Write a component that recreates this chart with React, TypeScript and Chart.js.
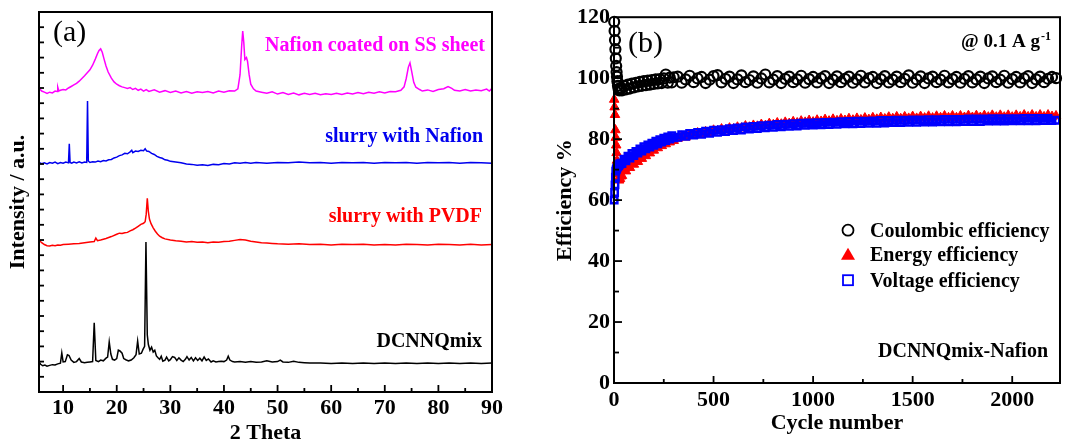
import React, { useEffect, useRef } from 'react';
import { Chart, registerables } from 'chart.js';

Chart.register(...registerables);

const SERIF = "'Liberation Serif', 'Times New Roman', serif";

type Pt = [number, number];

// ---------------- Panel (a): XRD patterns (offset, arbitrary units) ----------------
const xrdNafionSS: Pt[] = [
  [5.5, 80.0], [6, 79.2], [6.5, 78.9], [7, 78.6], [7.5, 78.9], [8, 78.7], [8.5, 79.2], [8.9, 79.1], [9.0, 80.2], [9.2, 79.2],
  [9.5, 79.4], [10, 79.6], [10.5, 79.5], [11, 80.0], [11.5, 80.4], [12, 80.8], [12.5, 81.2], [13, 81.8], [13.5, 82.5], [14, 83.2],
  [14.5, 84.0], [15, 84.8], [15.5, 86.0], [16, 87.6], [16.4, 89.0], [16.7, 89.9], [17.0, 90.3], [17.3, 89.4], [17.6, 87.8], [18.0, 85.8],
  [18.4, 84.2], [19, 82.6], [19.5, 81.6], [20, 81.0], [20.5, 80.6], [21, 80.3], [21.5, 80.1], [22, 79.9], [22.5, 80.1], [23, 79.6],
  [23.5, 79.9], [24, 79.4], [24.5, 79.7], [25, 79.2], [25.5, 79.6], [26, 79.1], [27, 79.5], [28, 78.9], [29, 79.3], [30, 78.8],
  [31, 79.2], [32, 78.7], [33, 79.1], [34, 78.6], [35, 79.0], [36, 78.8], [37, 79.1], [38, 78.7], [39, 79.2], [40, 78.9],
  [41, 79.3], [42, 79.2], [42.6, 79.8], [43.0, 83.5], [43.3, 91.0], [43.5, 95.0], [43.7, 92.0], [43.9, 87.5], [44.2, 88.0], [44.4, 87.0],
  [44.7, 83.5], [45.0, 81.0], [45.5, 79.8], [46, 79.2], [47, 78.9], [48, 78.6], [49, 79.0], [50, 78.4], [51, 78.8], [52, 78.3],
  [53, 78.7], [54, 78.2], [55, 78.6], [56, 78.3], [57, 78.6], [58, 78.2], [59, 78.5], [60, 78.3], [61, 78.6], [62, 78.3],
  [63, 78.7], [64, 78.4], [65, 78.8], [66, 78.5], [67, 78.9], [68, 78.6], [69, 79.0], [70, 78.7], [71, 79.1], [72, 79.0],
  [73, 79.4], [73.6, 80.3], [74.0, 82.5], [74.4, 85.5], [74.7, 86.6], [75.0, 84.5], [75.4, 81.5], [75.8, 80.2], [76.5, 79.6], [77, 79.2],
  [78, 79.5], [79, 79.1], [80, 79.6], [81, 79.8], [81.8, 80.4], [82.5, 79.9], [83, 79.4], [84, 79.2], [85, 79.6], [86, 79.2],
  [87, 79.5], [88, 79.3], [89, 79.7], [89.5, 79.2], [90, 79.9],
];

const xrdSlurryNafion: Pt[] = [
  [5.5, 60.4], [6, 60.1], [6.5, 60.3], [7, 60.0], [7.5, 60.4], [8, 60.2], [8.5, 60.5], [9, 60.1], [9.5, 60.4], [10, 60.2],
  [10.5, 60.5], [11.0, 60.3], [11.15, 65.3], [11.3, 60.4], [11.6, 60.2], [12, 60.5], [12.5, 60.3], [13, 60.6], [13.5, 60.3], [14, 60.5],
  [14.4, 60.4], [14.55, 76.6], [14.7, 60.8], [15, 60.4], [15.5, 60.6], [16, 60.5], [16.5, 60.8], [17, 60.6], [17.5, 60.9], [18, 60.8],
  [18.5, 61.1], [19, 61.2], [19.5, 61.6], [20, 61.8], [20.5, 62.2], [21, 62.4], [21.5, 62.8], [22, 62.7], [22.5, 63.2], [22.8, 63.6],
  [23, 63.0], [23.5, 63.4], [24, 63.3], [24.5, 63.6], [25, 63.5], [25.3, 64.0], [25.6, 63.4], [26, 63.3], [26.5, 62.8], [27, 62.5],
  [27.5, 62.0], [28, 61.7], [28.5, 61.5], [29, 61.1], [29.5, 61.0], [30, 60.7], [31, 60.5], [32, 60.3], [33, 60.0], [34, 59.9],
  [35, 59.7], [36, 59.8], [37, 59.6], [38, 59.9], [39, 59.8], [40, 60.1], [41, 60.0], [42, 60.3], [43, 60.2], [44, 60.4],
  [45, 60.2], [46, 60.4], [48, 60.2], [50, 60.4], [52, 60.3], [54, 60.5], [56, 60.3], [58, 60.4], [60, 60.2], [62, 60.4],
  [64, 60.3], [66, 60.4], [68, 60.2], [70, 60.4], [72, 60.3], [74, 60.4], [76, 60.2], [78, 60.4], [80, 60.3], [82, 60.4],
  [84, 60.2], [86, 60.4], [88, 60.3], [90, 60.2],
];

const xrdSlurryPVDF: Pt[] = [
  [5.5, 40.0], [6, 39.3], [6.5, 38.8], [7, 38.5], [7.5, 38.4], [8, 38.6], [8.5, 38.5], [9, 38.7], [9.5, 38.6], [10, 38.8],
  [11, 38.9], [12, 39.0], [13, 39.1], [14, 39.3], [15, 39.5], [15.8, 39.6], [16.1, 40.5], [16.4, 39.8], [17, 40.0], [18, 40.4],
  [19, 40.9], [20, 41.5], [20.5, 41.8], [21, 41.7], [21.5, 41.9], [22, 42.0], [22.5, 42.4], [23, 42.7], [23.5, 43.1], [24, 43.6],
  [24.5, 44.1], [25, 44.4], [25.3, 44.8], [25.5, 46.8], [25.7, 51.0], [25.9, 47.5], [26.1, 45.5], [26.4, 44.3], [26.8, 43.2], [27.2, 42.3],
  [27.6, 41.6], [28, 41.0], [28.5, 40.6], [29, 40.3], [30, 40.0], [31, 39.8], [32, 39.7], [33, 39.5], [34, 39.6], [35, 39.4],
  [36, 39.5], [37, 39.3], [38, 39.5], [39, 39.4], [40, 39.6], [41, 39.7], [42, 39.9], [43, 40.1], [44, 40.0], [45, 39.7],
  [46, 39.5], [47, 39.3], [48, 39.2], [49, 39.1], [50, 39.0], [52, 38.9], [54, 39.0], [56, 38.8], [58, 38.9], [60, 38.7],
  [62, 38.9], [64, 38.8], [66, 38.9], [68, 38.7], [70, 38.8], [72, 38.7], [74, 38.9], [76, 38.8], [78, 38.7], [80, 38.9],
  [82, 38.8], [84, 38.7], [86, 38.9], [88, 38.7], [90, 38.8],
];

const xrdDCNNQmix: Pt[] = [
  [5.5, 7.9], [5.8, 7.3], [6.2, 6.9], [6.6, 7.1], [7, 6.8], [7.5, 7.0], [8, 7.2], [8.5, 7.1], [9, 7.4], [9.5, 7.6],
  [9.75, 10.3], [10, 7.9], [10.4, 8.0], [10.8, 9.8], [11.1, 9.6], [11.5, 8.4], [12, 7.8], [12.5, 8.0], [13, 8.8], [13.4, 7.9],
  [14, 7.7], [14.5, 7.8], [15, 7.9], [15.5, 8.0], [15.8, 18.2], [16.1, 8.3], [16.6, 8.0], [17, 8.4], [17.5, 8.2], [18, 8.9],
  [18.3, 9.2], [18.6, 13.2], [18.9, 10.0], [19.2, 8.6], [19.6, 8.4], [20, 8.8], [20.3, 11.0], [20.6, 10.8], [21, 10.2], [21.3, 8.8],
  [21.7, 8.5], [22.2, 8.2], [22.7, 8.4], [23.2, 9.0], [23.6, 9.8], [23.9, 13.4], [24.2, 10.0], [24.6, 10.2], [24.9, 11.2], [25.2, 12.0],
  [25.45, 39.5], [25.7, 15.0], [25.9, 12.5], [26.2, 11.0], [26.5, 11.8], [26.8, 10.5], [27.1, 11.0], [27.4, 9.5], [27.7, 9.0], [28, 8.6],
  [28.3, 9.4], [28.6, 8.1], [29, 8.4], [29.3, 9.2], [29.7, 8.2], [30, 8.5], [30.4, 9.3], [30.8, 9.1], [31.2, 8.3], [31.6, 9.0],
  [32, 8.4], [32.4, 8.0], [32.8, 8.6], [33.1, 9.3], [33.5, 8.4], [33.9, 9.1], [34.3, 8.2], [34.7, 9.0], [35.1, 8.3], [35.5, 8.9],
  [35.9, 8.2], [36.3, 9.2], [36.7, 8.3], [37.1, 8.7], [37.6, 7.9], [38, 8.2], [38.5, 7.9], [39, 8.0], [39.5, 8.1], [40, 8.0],
  [40.5, 8.4], [40.8, 9.4], [41.1, 8.4], [41.6, 8.0], [42, 7.9], [43, 8.0], [44, 7.8], [45, 8.0], [46, 7.8], [47, 7.9],
  [48, 8.2], [49, 7.9], [50, 8.0], [50.5, 8.4], [51, 7.9], [52, 7.8], [53, 8.1], [54, 7.8], [55, 7.7], [56, 7.6],
  [58, 7.6], [60, 7.5], [62, 7.6], [64, 7.5], [66, 7.6], [68, 7.5], [70, 7.6], [72, 7.5], [74, 7.6], [76, 7.5],
  [78, 7.6], [80, 7.5], [82, 7.6], [84, 7.5], [86, 7.6], [88, 7.5], [90, 7.6],
];

const thetaMajorTicks = [10, 20, 30, 40, 50, 60, 70, 80, 90];
const thetaMinorTicks = [15, 25, 35, 45, 55, 65, 75, 85];

// ---------------- Panel (b): efficiencies vs cycle ----------------
const cycles = [
  1, 3, 5, 7, 9, 11, 13, 15, 17, 20, 23, 26, 30, 35,
  40, 50, 60, 70, 80, 90, 100, 110, 120, 130, 140, 150, 160, 170, 180, 190, 200, 210, 220, 230, 240, 250, 260, 270, 280, 290, 300,
  320, 340, 360, 380, 400, 420, 440, 460, 480, 500,
  520, 540, 560, 580, 600, 620, 640, 660, 680, 700,
  720, 740, 760, 780, 800, 820, 840, 860, 880, 900,
  920, 940, 960, 980, 1000, 1020, 1040, 1060, 1080, 1100,
  1120, 1140, 1160, 1180, 1200, 1220, 1240, 1260, 1280, 1300,
  1320, 1340, 1360, 1380, 1400, 1420, 1440, 1460, 1480, 1500,
  1520, 1540, 1560, 1580, 1600, 1620, 1640, 1660, 1680, 1700,
  1720, 1740, 1760, 1780, 1800, 1820, 1840, 1860, 1880, 1900,
  1920, 1940, 1960, 1980, 2000, 2020, 2040, 2060, 2080, 2100,
  2120, 2140, 2160, 2180, 2200, 2220,
];

const coulombic = [
  118.5, 115.5, 112.5, 109.5, 106.5, 104, 102, 100.5, 99, 97.5, 96.5, 96, 96.3, 96.8,
  96.0, 97.5, 96.3, 97.9, 96.6, 98.2, 97.0, 98.5, 97.3, 98.8, 97.5, 99.0, 97.7, 99.2, 97.9, 99.4, 98.1, 99.6, 98.3, 99.7, 98.4, 99.9, 101.2, 98.5, 100.2, 98.6, 100.3,
  100.5, 98.5, 99.6, 100.8, 98.7, 99.9, 100.4, 98.4, 99.5, 100.7,
  101.0, 98.6, 99.8, 100.5, 98.4, 99.6, 100.9, 98.7, 99.4, 100.6,
  98.5, 99.9, 101.2, 98.6, 99.5, 100.7, 98.4, 99.8, 100.5, 98.7,
  99.6, 100.8, 98.5, 99.7, 100.4, 98.6, 99.9, 100.7, 98.4, 99.5,
  100.6, 98.7, 99.8, 100.5, 98.5, 99.6, 100.8, 98.6, 99.9, 100.4,
  98.4, 99.7, 100.7, 98.6, 99.5, 100.5, 98.7, 99.8, 100.9, 98.5,
  99.6, 100.6, 98.4, 99.9, 100.5, 98.7, 99.5, 100.8, 98.6, 99.7,
  100.4, 98.5, 99.8, 100.7, 98.6, 99.6, 100.5, 98.4, 99.9, 100.6,
  98.7, 99.5, 100.8, 98.5, 99.7, 100.4, 98.6, 99.9, 100.7, 98.4,
  99.6, 100.5, 98.7, 99.8, 100.4, 100.0,
];

const energy = [
  93, 90.5, 88, 83, 80.5, 78, 75.5, 73, 70.5, 68.5, 67, 66.5, 67, 67.8,
  68.0, 69.9, 69.5, 71.3, 70.6, 72.4, 71.7, 73.4, 72.6, 74.4, 73.6, 75.3, 74.5, 76.2, 75.4, 77.1, 76.3, 78.0, 77.1, 78.7, 77.8, 79.3, 78.4, 79.8, 79.0, 80.3, 79.5,
  80.2, 80.9, 80.6, 81.5, 81.2, 82.0, 81.7, 82.4, 82.1, 82.9,
  82.7, 83.3, 82.9, 83.6, 83.3, 83.9, 83.6, 84.3, 83.9, 84.5,
  84.2, 84.8, 84.4, 85.1, 84.7, 85.3, 84.9, 85.5, 85.1, 85.7,
  85.3, 85.9, 85.5, 86.1, 85.6, 86.2, 85.8, 86.4, 85.9, 86.5,
  86.0, 86.6, 86.1, 86.7, 86.2, 86.8, 86.3, 86.9, 86.4, 87.0,
  86.5, 87.1, 86.6, 87.2, 86.7, 87.3, 86.7, 87.3, 86.8, 87.4,
  86.8, 87.4, 86.9, 87.5, 86.9, 87.5, 87.0, 87.6, 87.0, 87.6,
  87.0, 87.6, 87.1, 87.7, 87.1, 87.7, 87.1, 87.7, 87.2, 87.8,
  87.2, 87.8, 87.2, 87.8, 87.2, 87.8, 87.3, 87.9, 87.3, 87.9,
  87.3, 87.9, 87.3, 87.9, 87.4, 87.6,
];

const voltage = [
  60, 62.5, 65, 67.5, 69.5, 70, 70.3, 70.6, 70.9, 71.1, 71.3, 71.6, 71.9, 72.1,
  72.0, 73.4, 72.9, 74.4, 73.8, 75.3, 74.6, 76.0, 75.4, 76.8, 76.1, 77.5, 76.8, 78.1, 77.4, 78.7, 78.0, 79.3, 78.5, 79.8, 79.0, 80.3, 79.5, 80.7, 80.0, 81.1, 80.4,
  80.6, 81.5, 80.9, 81.9, 81.3, 82.2, 81.6, 82.6, 81.9, 82.9,
  82.2, 83.1, 82.5, 83.4, 82.8, 83.7, 83.0, 84.0, 83.3, 84.2,
  83.5, 84.4, 83.7, 84.6, 83.9, 84.8, 84.0, 84.9, 84.2, 85.1,
  84.3, 85.2, 84.5, 85.3, 84.6, 85.4, 84.7, 85.5, 84.8, 85.6,
  84.9, 85.7, 85.0, 85.8, 85.0, 85.9, 85.1, 85.9, 85.2, 86.0,
  85.2, 86.1, 85.3, 86.1, 85.4, 86.2, 85.4, 86.2, 85.5, 86.3,
  85.5, 86.3, 85.6, 86.4, 85.6, 86.4, 85.7, 86.5, 85.7, 86.5,
  85.7, 86.5, 85.8, 86.6, 85.8, 86.6, 85.8, 86.6, 85.9, 86.7,
  85.9, 86.7, 85.9, 86.7, 86.0, 86.7, 86.0, 86.8, 86.0, 86.8,
  86.0, 86.8, 86.1, 86.8, 86.1, 86.2,
];

const cycleMajorTicks = [0, 500, 1000, 1500, 2000];
const cycleMinorTicks = [250, 750, 1250, 1750];
const effMajorTicks = [0, 20, 40, 60, 80, 100, 120];
const effMinorTicks = [10, 30, 50, 70, 90, 110];

// ---------------- overlay plugin (frame, inward ticks, notes, legend) ----------------
type TickSpec = { axis: 'x' | 'y'; values?: number[]; len: number };
type Note = { text: string; dx: number; dy: number; align: CanvasTextAlign; color: string; font: string };
type LegendItem = { label: string; style: 'circle' | 'triangle' | 'rect'; color: string };
type LegendSpec = { markerDx: number; textDx: number; rows: number[]; items: LegendItem[]; font: string };

function makeOverlay(ticks: TickSpec[], notes: Note[], legend?: LegendSpec) {
  return {
    id: 'overlay',
    afterDatasetsDraw(chart: any) {
      const { ctx, chartArea: a } = chart;
      ctx.save();
      ctx.strokeStyle = '#000';
      ctx.lineWidth = 2;
      ctx.strokeRect(a.left, a.top, a.right - a.left, a.bottom - a.top);
      ctx.lineWidth = 1.8;
      for (const t of ticks) {
        const scale = chart.scales[t.axis];
        const vals: number[] = t.values ?? scale.ticks.map((k: any) => k.value);
        for (const v of vals) {
          if (v <= scale.min || v >= scale.max) continue;
          const p = scale.getPixelForValue(v);
          ctx.beginPath();
          if (t.axis === 'x') {
            ctx.moveTo(p, a.bottom);
            ctx.lineTo(p, a.bottom - t.len);
          } else {
            ctx.moveTo(a.left, p);
            ctx.lineTo(a.left + t.len, p);
          }
          ctx.stroke();
        }
      }
      ctx.textBaseline = 'alphabetic';
      for (const n of notes) {
        ctx.font = n.font;
        ctx.fillStyle = n.color;
        ctx.textAlign = n.align;
        ctx.fillText(n.text, a.left + n.dx, a.top + n.dy);
      }
      if (legend) {
        legend.items.forEach((it, i) => {
          const x = a.left + legend.markerDx;
          const y = a.top + legend.rows[i];
          ctx.lineWidth = 1.8;
          ctx.strokeStyle = it.color;
          ctx.fillStyle = it.color;
          if (it.style === 'circle') {
            ctx.beginPath();
            ctx.arc(x, y, 5.5, 0, Math.PI * 2);
            ctx.stroke();
          } else if (it.style === 'triangle') {
            ctx.beginPath();
            ctx.moveTo(x, y - 6.5);
            ctx.lineTo(x + 7, y + 5.5);
            ctx.lineTo(x - 7, y + 5.5);
            ctx.closePath();
            ctx.fill();
          } else {
            ctx.strokeRect(x - 5, y - 5, 10, 10);
          }
          ctx.font = legend.font;
          ctx.fillStyle = '#000';
          ctx.textAlign = 'left';
          ctx.fillText(it.label, a.left + legend.textDx, y + 7);
        });
      }
      ctx.restore();
    },
  };
}

const tickFont = { family: SERIF, size: 22, weight: 'bold' as const };
const titleFont = { family: SERIF, size: 22, weight: 'bold' as const, lineHeight: 1 };
const noGrid = { display: false, drawTicks: false };
const fixedTicks = (vals: number[]) => (s: any) => {
  s.ticks = vals.map((v) => ({ value: v }));
};

function configA(): any {
  const ds = (label: string, data: Pt[], color: string) => ({
    label, data, borderColor: color, backgroundColor: color, borderWidth: 1.5,
    pointRadius: 0, fill: false, tension: 0,
  });
  return {
    type: 'line',
    data: {
      datasets: [
        ds('Nafion coated on SS sheet', xrdNafionSS, '#ff00ff'),
        ds('slurry with Nafion', xrdSlurryNafion, '#0000ee'),
        ds('slurry with PVDF', xrdSlurryPVDF, '#ff0000'),
        ds('DCNNQmix', xrdDCNNQmix, '#000000'),
      ],
    },
    options: {
      responsive: false,
      animation: false,
      devicePixelRatio: 1,
      layout: { padding: { left: 0, top: 12, right: 43, bottom: 0 } },
      plugins: { legend: { display: false }, tooltip: { enabled: false } },
      scales: {
        x: {
          type: 'linear', min: 5.5, max: 90,
          grid: noGrid, border: { display: false },
          afterBuildTicks: fixedTicks(thetaMajorTicks),
          ticks: { autoSkip: false, maxRotation: 0, font: tickFont, color: '#000', padding: 3 },
          title: { display: true, text: '2 Theta', font: titleFont, color: '#000', padding: { top: 0, bottom: 0 } },
          afterFit: (s: any) => { s.height = 52; },
        },
        y: {
          type: 'linear', min: 0, max: 100,
          grid: noGrid, border: { display: false },
          ticks: { display: false, stepSize: 4 },
          title: { display: true, text: 'Intensity / a.u.', font: titleFont, color: '#000', padding: { top: 7, bottom: 0 } },
          afterFit: (s: any) => { s.width = 39; },
        },
      },
    },
    plugins: [
      makeOverlay(
        [
          { axis: 'x', len: 7 },
          { axis: 'x', values: thetaMinorTicks, len: 4 },
          { axis: 'y', len: 5 },
        ],
        [
          { text: '(a)', dx: 14, dy: 29, align: 'left', color: '#000', font: `30px ${SERIF}` },
          { text: 'Nafion coated on SS sheet', dx: 446, dy: 39, align: 'right', color: '#ff00ff', font: `bold 20px ${SERIF}` },
          { text: 'slurry with Nafion', dx: 444, dy: 130, align: 'right', color: '#0000ee', font: `bold 20px ${SERIF}` },
          { text: 'slurry with PVDF', dx: 443, dy: 210, align: 'right', color: '#ff0000', font: `bold 20px ${SERIF}` },
          { text: 'DCNNQmix', dx: 443, dy: 335, align: 'right', color: '#000', font: `bold 20px ${SERIF}` },
        ],
      ),
    ],
  };
}

function configB(): any {
  const pts = (vals: number[]) => cycles.map((c, i) => ({ x: c, y: vals[i] }));
  return {
    type: 'scatter',
    data: {
      datasets: [
        {
          label: 'Coulombic efficiency', data: pts(coulombic), order: 0, clip: false,
          pointStyle: 'circle', pointRadius: 5, borderColor: '#000', backgroundColor: 'rgba(0,0,0,0)', borderWidth: 2.2,
        },
        {
          label: 'Energy efficiency', data: pts(energy), order: 2, clip: false,
          pointStyle: 'triangle', pointRadius: 5.5, borderColor: '#ff0000', backgroundColor: '#ff0000', borderWidth: 1,
        },
        {
          label: 'Voltage efficiency', data: pts(voltage), order: 1, clip: false,
          pointStyle: 'rect', pointRadius: 4.5, borderColor: '#0000ff', backgroundColor: 'rgba(0,0,0,0)', borderWidth: 2.5,
        },
      ],
    },
    options: {
      responsive: false,
      animation: false,
      devicePixelRatio: 1,
      layout: { padding: { left: 0, top: 17, right: 10, bottom: 0 } },
      plugins: { legend: { display: false }, tooltip: { enabled: false } },
      scales: {
        x: {
          type: 'linear', min: 0, max: 2240,
          grid: noGrid, border: { display: false },
          afterBuildTicks: fixedTicks(cycleMajorTicks),
          ticks: {
            autoSkip: false, maxRotation: 0, font: tickFont, color: '#000', padding: 4,
            callback: (v: any) => String(v),
          },
          title: { display: true, text: 'Cycle number', font: titleFont, color: '#000', padding: { top: 0, bottom: 10 } },
          afterFit: (s: any) => { s.height = 61; },
        },
        y: {
          type: 'linear', min: 0, max: 120,
          grid: noGrid, border: { display: false },
          afterBuildTicks: fixedTicks(effMajorTicks),
          ticks: { font: tickFont, color: '#000', padding: 4, callback: (v: any) => String(v) },
          title: { display: true, text: 'Efficiency %', font: titleFont, color: '#000', padding: { top: 19, bottom: 0 } },
          afterFit: (s: any) => { s.width = 79; },
        },
      },
    },
    plugins: [
      makeOverlay(
        [
          { axis: 'x', len: 7 },
          { axis: 'x', values: cycleMinorTicks, len: 4 },
          { axis: 'y', len: 8 },
          { axis: 'y', values: effMinorTicks, len: 5 },
        ],
        [
          { text: '(b)', dx: 14, dy: 35, align: 'left', color: '#000', font: `30px ${SERIF}` },
          { text: '@ 0.1 A g', dx: 426, dy: 30, align: 'right', color: '#000', font: `bold 19px ${SERIF}` },
          { text: '-1', dx: 427, dy: 23, align: 'left', color: '#000', font: `bold 12px ${SERIF}` },
          { text: 'DCNNQmix-Nafion', dx: 434, dy: 340, align: 'right', color: '#000', font: `bold 20px ${SERIF}` },
        ],
        {
          markerDx: 234,
          textDx: 256,
          rows: [213, 237, 263],
          font: `bold 20px ${SERIF}`,
          items: [
            { label: 'Coulombic efficiency', style: 'circle', color: '#000' },
            { label: 'Energy efficiency', style: 'triangle', color: '#ff0000' },
            { label: 'Voltage efficiency', style: 'rect', color: '#0000ff' },
          ],
        },
      ),
    ],
  };
}

export default function App() {
  const refA = useRef<HTMLCanvasElement>(null);
  const refB = useRef<HTMLCanvasElement>(null);

  useEffect(() => {
    const a = new Chart(refA.current as HTMLCanvasElement, configA());
    const b = new Chart(refB.current as HTMLCanvasElement, configB());
    return () => {
      a.destroy();
      b.destroy();
    };
  }, []);

  return (
    <div style={{ position: 'fixed', left: 0, top: 0, width: 1070, height: 444, background: '#fff', overflow: 'hidden' }}>
      <canvas ref={refA} width={535} height={444} style={{ position: 'absolute', left: 0, top: 0, width: 535, height: 444 }} />
      <canvas ref={refB} width={535} height={444} style={{ position: 'absolute', left: 535, top: 0, width: 535, height: 444 }} />
    </div>
  );
}
